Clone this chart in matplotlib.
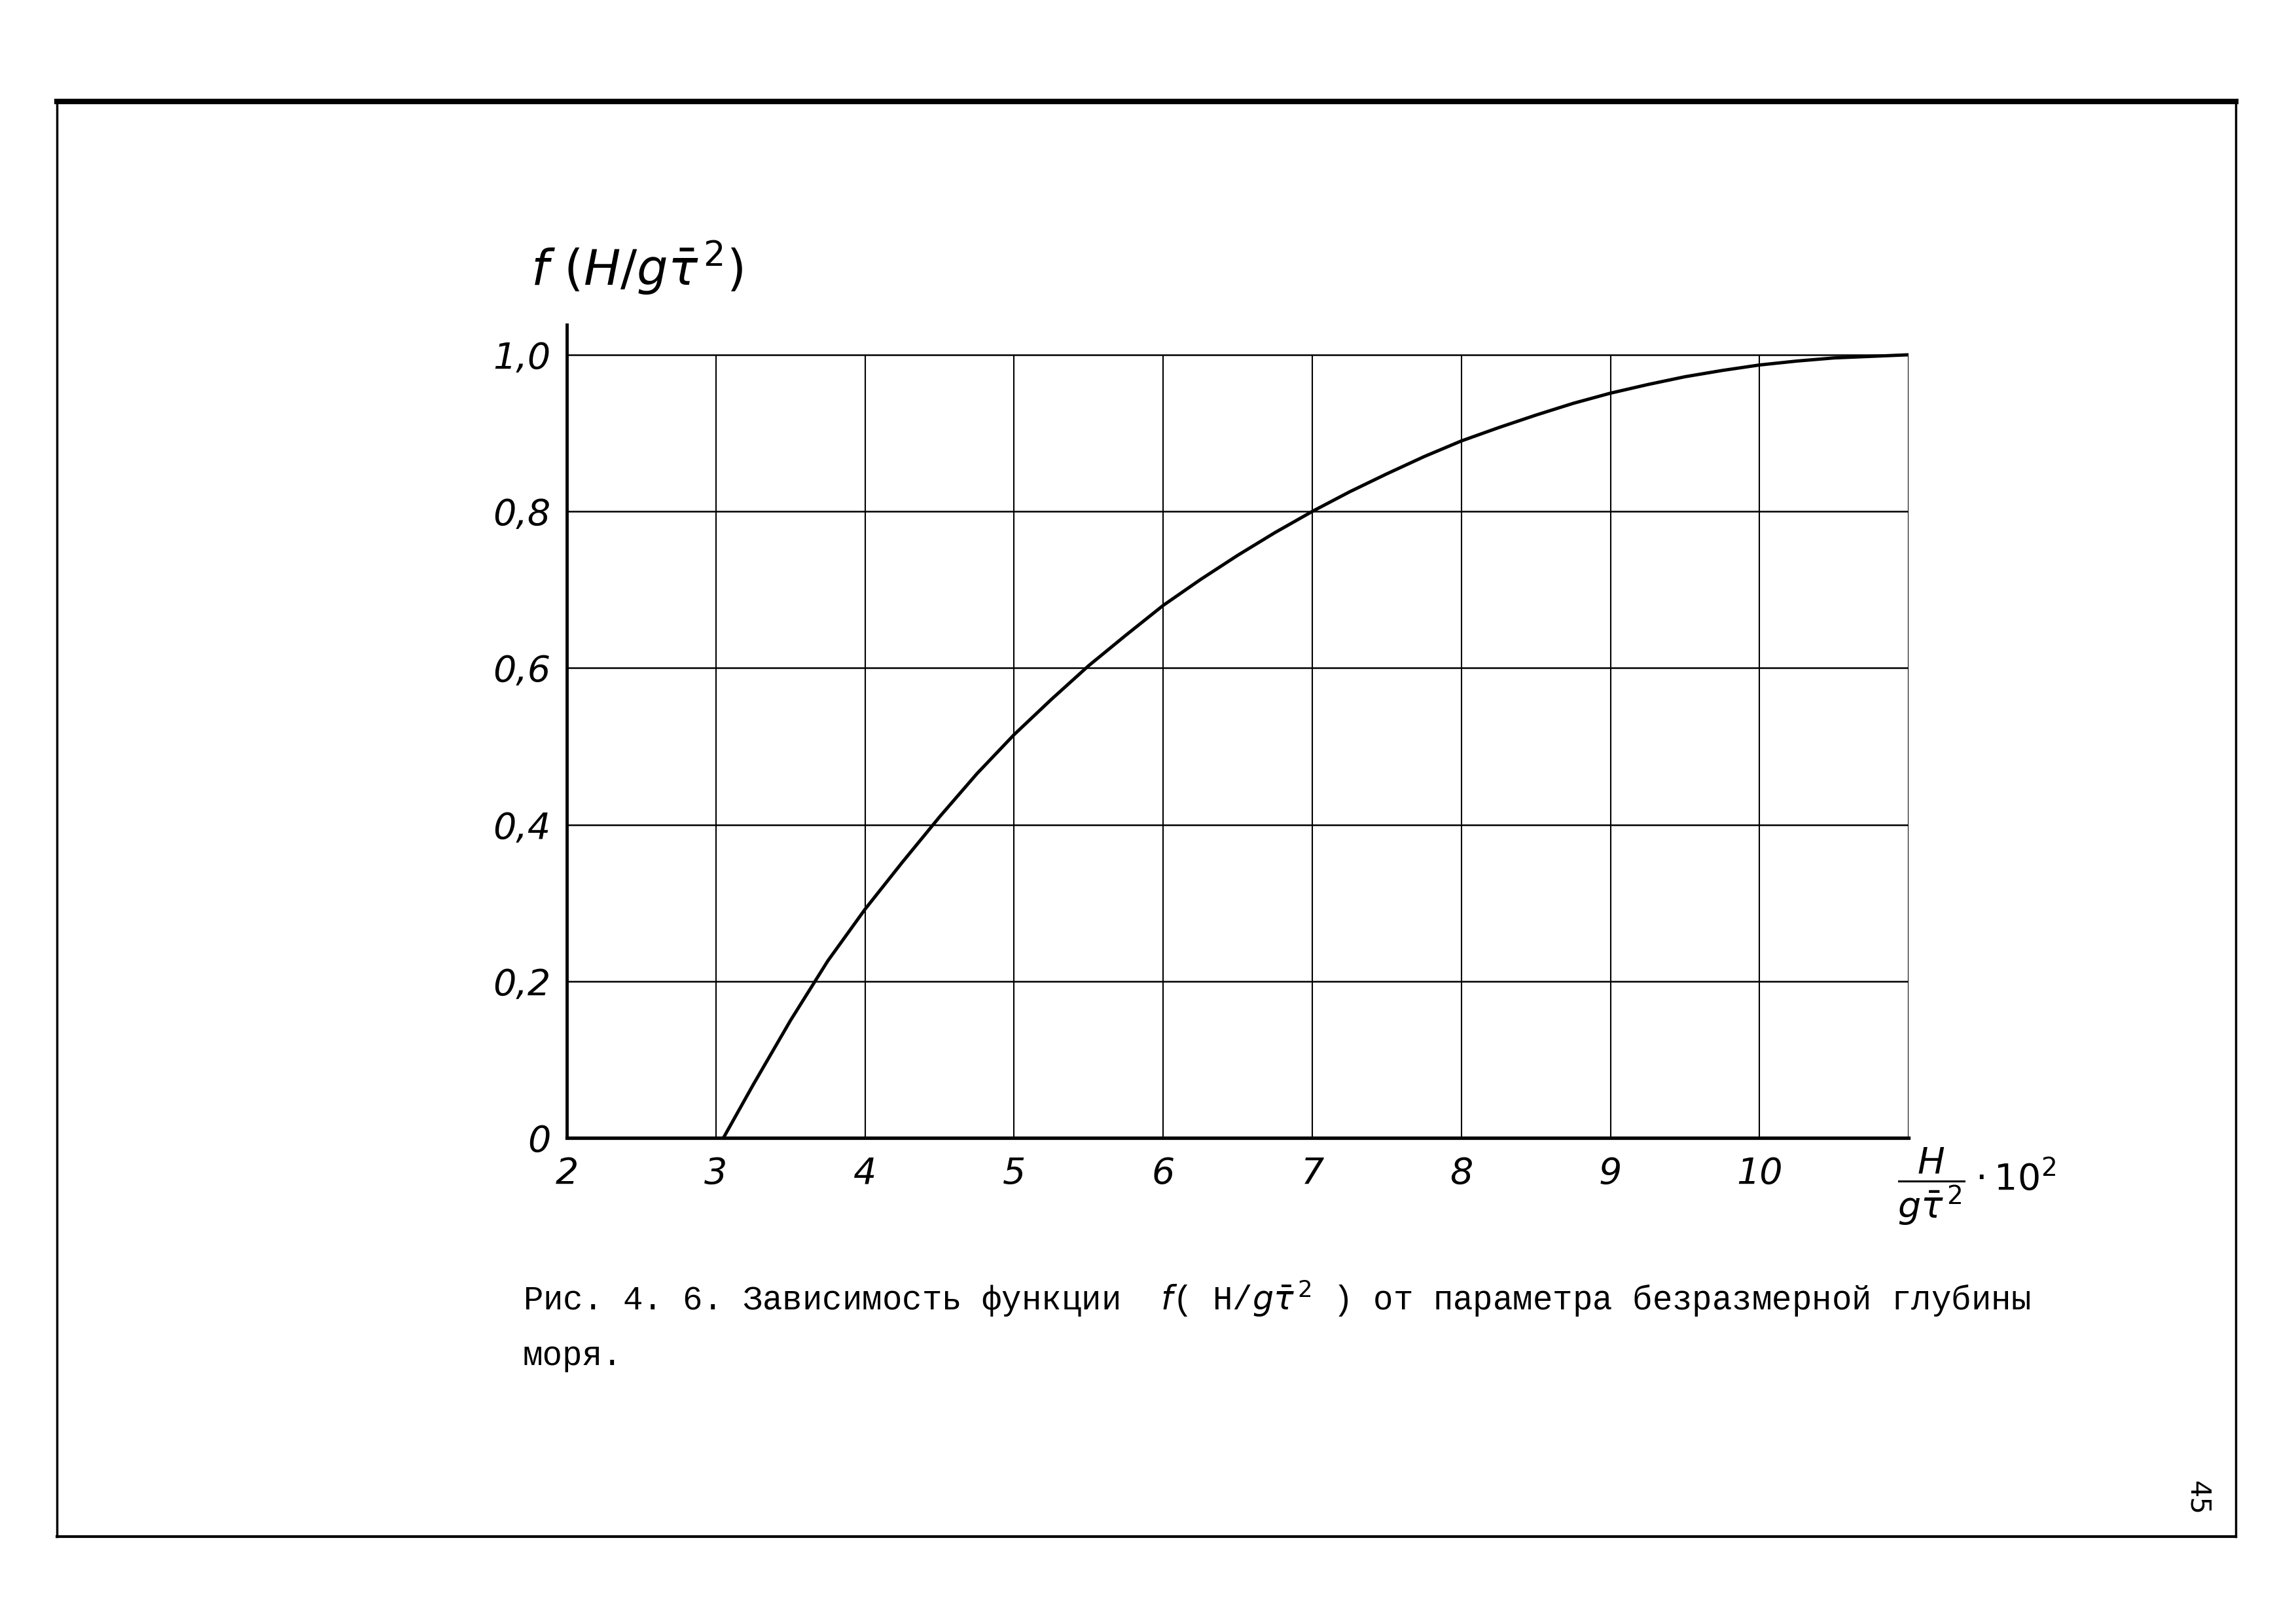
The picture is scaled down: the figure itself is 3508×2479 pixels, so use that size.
import numpy as np
import matplotlib.pyplot as plt
from matplotlib.lines import Line2D

# curve values
h_param = [3.05, 3.25, 3.5, 3.75, 4.0, 4.25, 4.5, 4.75, 5.0, 5.25, 5.5, 5.75, 6.0,
           6.25, 6.5, 6.75, 7.0, 7.25, 7.5, 7.75, 8.0, 8.25, 8.5, 8.75, 9.0,
           9.25, 9.5, 9.75, 10.0, 10.25, 10.5, 10.75, 11.0]
f_val = [0.0, 0.068, 0.15, 0.226, 0.292, 0.352, 0.41, 0.465, 0.515, 0.56, 0.603, 0.642, 0.68,
         0.713, 0.744, 0.773, 0.80, 0.825, 0.848, 0.87, 0.89, 0.907, 0.923, 0.938, 0.951,
         0.962, 0.972, 0.98, 0.987, 0.992, 0.996, 0.998, 1.0]

x_ticks = [2, 3, 4, 5, 6, 7, 8, 9, 10]
x_grid = [3, 4, 5, 6, 7, 8, 9, 10, 11]
y_ticks = [0, 0.2, 0.4, 0.6, 0.8, 1.0]
y_ticklabels = ['0', '0,2', '0,4', '0,6', '0,8', '1,0']

fig = plt.figure(figsize=(35.08, 24.79), dpi=100)
fig.patch.set_facecolor('white')

ax = fig.add_axes([0.2469, 0.2989, 0.5844, 0.4825 * 1.038])
ax.set_xlim(2, 11)
ax.set_ylim(0, 1.038)

# grid drawn as a box of lines (ends at 1.0, not at the axes top)
ax.hlines(y_ticks[1:], 2, 11, colors='black', linewidth=1.8)
ax.vlines(x_grid, 0, 1.0, colors='black', linewidth=1.5)

ax.plot(h_param, f_val, color='black', linewidth=3.6,
        solid_capstyle='round', solid_joinstyle='round')

for side in ['top', 'right']:
    ax.spines[side].set_visible(False)
ax.spines['left'].set_linewidth(3.5)
ax.spines['bottom'].set_linewidth(3.8)

ax.set_xticks(x_ticks)
ax.set_xticklabels([str(t) for t in x_ticks])
ax.set_yticks(y_ticks)
ax.set_yticklabels(y_ticklabels)
ax.tick_params(axis='y', length=0, labelsize=40, pad=18)
ax.tick_params(axis='x', length=0, labelsize=40, pad=20)
for lab in ax.get_xticklabels() + ax.get_yticklabels():
    lab.set_fontstyle('italic')
    lab.set_fontweight('light')

fig.text(0.2774, 0.835, r'$f\ (H/g\bar{\tau}^{\,2})$', fontsize=54,
         ha='center', va='center')
fig.text(0.861, 0.269, r'$\dfrac{H}{g\bar{\tau}^{\,2}}\cdot 10^{2}$', fontsize=40,
         ha='center', va='center')

cap_font = dict(family='Liberation Mono', fontsize=36.5, color='black')
fig.text(0.2277, 0.1928,
         'Рис. 4. 6. Зависимость функции  $f$( H/$g\\bar{\\tau}^{\\,2}$ ) от параметра безразмерной глубины',
         ha='left', va='baseline', **cap_font)
fig.text(0.2277, 0.159, 'моря.', ha='left', va='baseline', **cap_font)

fig.text(0.957, 0.077, '45', fontsize=30, rotation=-90, ha='center', va='center')

# page frame
fig.add_artist(Line2D([0.0248, 0.9738], [0.9375, 0.9375], color='black', linewidth=6,
                      transform=fig.transFigure))
fig.add_artist(Line2D([0.0248, 0.9738], [0.0532, 0.0532], color='black', linewidth=3,
                      transform=fig.transFigure))
fig.add_artist(Line2D([0.0248, 0.0248], [0.0532, 0.9375], color='black', linewidth=2.5,
                      transform=fig.transFigure))
fig.add_artist(Line2D([0.9738, 0.9738], [0.0532, 0.9375], color='black', linewidth=2.5,
                      transform=fig.transFigure))

fig.savefig('out.png', dpi=100, facecolor='white')
